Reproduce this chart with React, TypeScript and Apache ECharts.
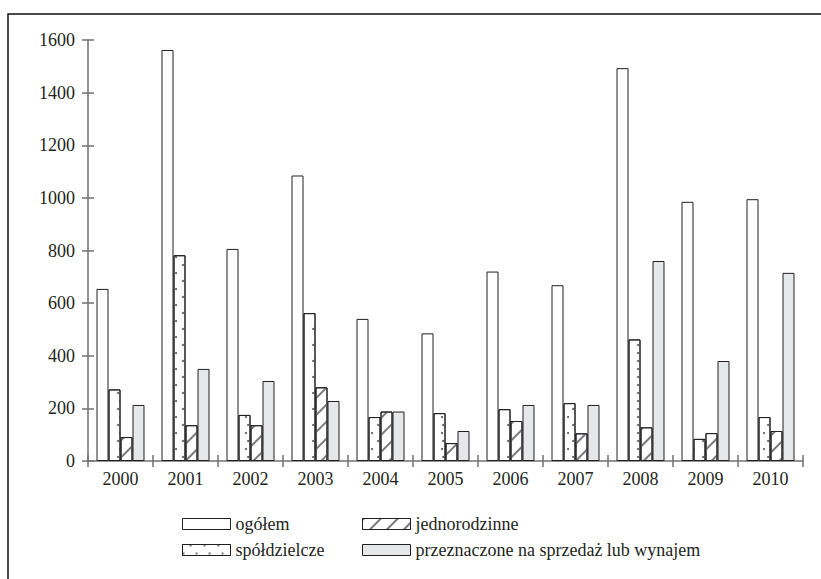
import React, { useEffect, useRef } from "react";
import * as echarts from "echarts";

const years = ["2000", "2001", "2002", "2003", "2004", "2005", "2006", "2007", "2008", "2009", "2010"];
const ogolem = [654, 1562, 806, 1085, 540, 485, 720, 668, 1493, 985, 995];
const spoldzielcze = [272, 782, 175, 562, 167, 182, 197, 220, 462, 84, 167];
const jednorodzinne = [91, 136, 136, 280, 188, 68, 152, 105, 128, 106, 114];
const sprzedaz = [213, 350, 304, 228, 188, 114, 213, 213, 760, 380, 715];

const yTicks = { min: 0, max: 1600, interval: 200 };

const FONT = "Liberation Serif";
const TEXT = "#231f20";
const AXIS = "#707070";

export default function App() {
  const ref = useRef<HTMLDivElement>(null);
  useEffect(() => {
    if (!ref.current) return;
    const chart = echarts.init(ref.current, null, { renderer: "svg" });
    const border = { borderColor: TEXT, borderWidth: 1 };
    const legendBase = {
      top: 515,
      padding: 0,
      orient: "vertical",
      itemWidth: 48,
      itemHeight: 11,
      itemGap: 8,
      icon: "rect",
      itemStyle: { borderWidth: 1, borderColor: TEXT },
      textStyle: { fontFamily: FONT, fontSize: 18, color: TEXT },
    };
    chart.setOption({
      animation: false,
      backgroundColor: "#ffffff",
      textStyle: { fontFamily: FONT, color: TEXT },
      graphic: [
        {
          type: "rect",
          shape: { x: 8, y: 14, width: 900, height: 700 },
          style: { fill: "none", stroke: "#111", lineWidth: 1.5 },
          silent: true,
        },
      ],
      grid: { left: 88, right: 18, top: 40, bottom: 118, containLabel: false },
      legend: [
        { ...legendBase, left: 182, data: ["ogółem", "spółdzielcze"] },
        { ...legendBase, left: 362, data: ["jednorodzinne", "przeznaczone na sprzedaż lub wynajem"] },
      ],
      xAxis: [
        {
          type: "category",
          data: years,
          boundaryGap: true,
          axisLine: { show: true, lineStyle: { color: AXIS, width: 1.5 } },
          axisTick: { show: true, length: 6, lineStyle: { color: AXIS, width: 1.5 } },
          axisLabel: { fontFamily: FONT, fontSize: 18, color: TEXT, margin: 9 },
          splitLine: { show: false },
        },
        {
          type: "category",
          data: years,
          position: "bottom",
          boundaryGap: true,
          axisLine: { show: false },
          axisTick: { show: true, inside: true, length: 6, lineStyle: { color: AXIS, width: 1.5 } },
          axisLabel: { show: false },
          splitLine: { show: false },
        },
      ],
      yAxis: [
        {
          type: "value",
          ...yTicks,
          axisLine: { show: true, lineStyle: { color: AXIS, width: 1.5 } },
          axisTick: { show: true, length: 6, lineStyle: { color: AXIS, width: 1.5 } },
          axisLabel: { fontFamily: FONT, fontSize: 18, color: TEXT, margin: 13, formatter: (v: number) => String(v) },
          splitLine: { show: false },
        },
        {
          type: "value",
          position: "left",
          ...yTicks,
          axisLine: { show: false },
          axisTick: { show: true, inside: true, length: 6, lineStyle: { color: AXIS, width: 1.5 } },
          axisLabel: { show: false },
          splitLine: { show: false },
        },
      ],
      series: [
        {
          name: "ogółem",
          type: "bar",
          data: ogolem,
          barWidth: 12,
          barGap: "0%",
          itemStyle: { color: "#ffffff", ...border },
        },
        {
          name: "spółdzielcze",
          type: "bar",
          data: spoldzielcze,
          barWidth: 12,
          barGap: "0%",
          itemStyle: {
            color: "#ffffff",
            ...border,
            decal: {
              symbol: "circle",
              symbolSize: 1,
              color: "#555555",
              dashArrayX: [[2, 11], [0, 6.5, 2, 4.5]],
              dashArrayY: [2, 5.5],
              rotation: 0,
            },
          },
        },
        {
          name: "jednorodzinne",
          type: "bar",
          data: jednorodzinne,
          barWidth: 12,
          barGap: "0%",
          itemStyle: {
            color: "#ffffff",
            ...border,
            decal: {
              symbol: "rect",
              symbolSize: 1,
              color: "#7a7a7a",
              dashArrayX: [1, 0],
              dashArrayY: [1.2, 9.5],
              rotation: -Math.PI / 4,
            },
          },
        },
        {
          name: "przeznaczone na sprzedaż lub wynajem",
          type: "bar",
          data: sprzedaz,
          barWidth: 12,
          barGap: "0%",
          itemStyle: { color: "#e6e7e8", ...border },
        },
      ],
    });
    return () => chart.dispose();
  }, []);
  return <div ref={ref} style={{ width: 821, height: 579, position: "absolute", left: 0, top: 0 }} />;
}
